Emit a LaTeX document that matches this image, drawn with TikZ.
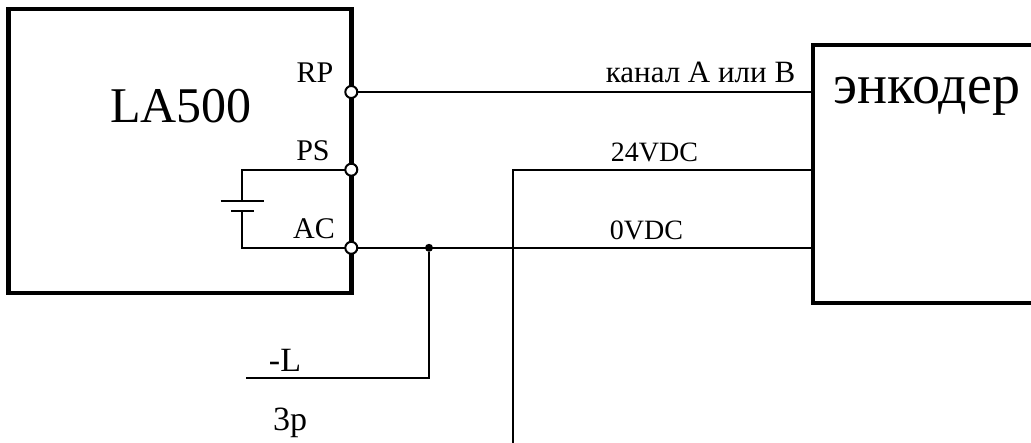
\documentclass[tikz,border=0pt]{standalone}
\usepackage{fontspec}
\setmainfont{Liberation Serif}
\tikzset{
  blockbox/.style={draw=black,line width=4.5pt,fill=none,inner sep=0pt,outer sep=0pt,anchor=north west},
  wire/.style={draw=black,line width=2pt},
  pin/.style={circle,draw=black,fill=white,line width=2pt,minimum size=12pt,inner sep=0pt},
  junction/.style={circle,fill=black,minimum size=8pt,inner sep=0pt},
  bigtext/.style={font=\fontsize{50}{50}\selectfont,inner sep=0pt},
  enctextstyle/.style={font=\fontsize{56}{56}\selectfont,inner sep=0pt},
  pintext/.style={font=\fontsize{30}{30}\selectfont,inner sep=0pt},
  wiretext/.style={font=\fontsize{28}{28}\selectfont,inner sep=0pt},
  chantext/.style={font=\fontsize{31}{31}\selectfont,inner sep=0pt},
  lowtext/.style={font=\fontsize{34}{34}\selectfont,inner sep=0pt}
}
\begin{document}
\begin{tikzpicture}[x=1pt,y=-1pt]
\useasboundingbox (0,0) rectangle (1031,443);
\node[blockbox,minimum width=343pt,minimum height=284pt] (la) at (8.5,9) {};
\node[blockbox,minimum width=240pt,minimum height=258pt] (enc) at (813,45) {};
\node[bigtext] (latext) at (181,106) {LA500};
\node[enctextstyle] (enctext) at (927,96) {энкодер};
\coordinate (rpc) at (351.3,92);
\coordinate (psc) at (351.3,169.7);
\coordinate (acc) at (351.3,247.8);
\coordinate (enca) at (813,92);
\coordinate (encb) at (813,169.7);
\coordinate (encc) at (813,247.8);
\coordinate (bt1) at (242,169.7);
\coordinate (bp1) at (242,201);
\coordinate (bp2) at (242,211.5);
\coordinate (bt2) at (242,247.8);
\coordinate (p1l) at (220.5,201);
\coordinate (p1r) at (264,201);
\coordinate (p2l) at (231,211.5);
\coordinate (p2r) at (253.5,211.5);
\coordinate (lend) at (246,378);
\coordinate (lcorner) at (429,378);
\coordinate (vcorner) at (513,169.7);
\coordinate (vend) at (513,443);
\draw[wire] (rpc) -- (enca);
\draw[wire] (acc) -- (encc);
\draw[wire] (encb) -- (vcorner) -- (vend);
\draw[wire] (psc) -- (bt1) -- (bp1);
\draw[wire] (p1l) -- (p1r);
\draw[wire] (p2l) -- (p2r);
\draw[wire] (bp2) -- (bt2) -- (acc);
\node[junction] (jn) at (429,247.8) {};
\draw[wire] (jn) -- (lcorner) -- (lend);
\node[pin] (rp) at (rpc) {};
\node[pin] (ps) at (psc) {};
\node[pin] (ac) at (acc) {};
\node[pintext] (rpt) at (315,73) {RP};
\node[pintext] (pst) at (313,151) {PS};
\node[pintext] (act) at (314,229) {AC};
\node[chantext] (cht) at (700.5,72) {канал А или В};
\node[wiretext] (vt) at (654.5,152) {24VDC};
\node[wiretext] (zt) at (646.5,230) {0VDC};
\node[lowtext] (lt) at (285,360) {-L};
\node[lowtext] (pt) at (290,423) {3p};
\end{tikzpicture}
\end{document}
